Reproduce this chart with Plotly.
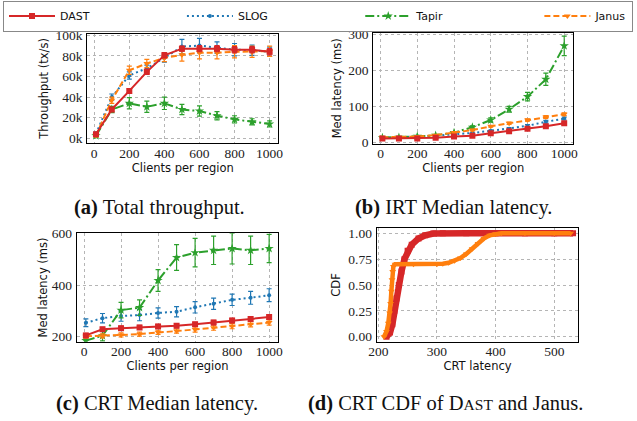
import plotly.graph_objects as go

# ---------------- data ----------------
clients = [10, 100, 200, 300, 400, 500, 600, 700, 800, 900, 1000]

# (a) total throughput (tx/s)
thr_dast = [3900, 28000, 46000, 64500, 80600, 87000, 87000, 87000, 86000, 86000, 84000]
thr_dast_err = [1000, 2000, 2000, 2500, 2500, 2500, 3000, 3000, 3000, 3000, 3000]
thr_slog = [4500, 40000, 61000, 68000, 78000, 89000, 90000, 88000, 86000, 85500, 84000]
thr_slog_err = [1500, 3000, 3500, 3000, 4000, 7000, 7000, 5500, 6000, 5000, 4500]
thr_tapir = [2600, 28000, 34000, 30600, 34000, 28000, 26500, 22000, 18400, 16000, 14000]
thr_tapir_err = [2000, 3000, 5500, 5500, 6000, 5000, 5000, 4000, 3500, 3000, 3000]
thr_janus = [3000, 37000, 66000, 72600, 78000, 81000, 83000, 83000, 84000, 84000, 84500]
thr_janus_err = [1500, 3000, 4000, 4000, 3500, 6000, 6000, 6000, 6000, 5500, 5000]
thr_ticks = [0, 20000, 40000, 60000, 80000, 100000]
thr_ticktext = ["0k", "20k", "40k", "60k", "80k", "100k"]

# (b) IRT median latency (ms)
irt_dast = [12, 12, 12, 14, 17, 19.5, 26, 32, 39, 46, 54]
irt_dast_err = [1, 1, 1, 1, 1, 1.5, 2, 2, 2.5, 3, 3]
irt_slog = [14, 15, 17, 19.5, 23, 27, 33, 39, 47, 58, 67]
irt_slog_err = [1, 1, 1, 1, 1.5, 2, 2, 3, 3, 4, 4]
irt_tapir = [14, 15, 17.6, 20.4, 28, 43, 63, 93, 128, 176, 269]
irt_tapir_err = [1, 1, 1, 2, 3, 4, 6, 8, 12, 17, 27]
irt_janus = [15, 15, 17, 21, 28, 35, 45.5, 54, 63, 71.5, 79]
irt_janus_err = [1, 1, 1, 1, 1.5, 2, 2, 3, 3, 4, 4]

# (c) CRT median latency (ms)
crt_dast = [205, 229, 233, 236, 240, 243, 248, 255, 263, 269, 276]
crt_dast_err = [8, 7, 8, 8, 8, 8, 8, 8, 8, 8, 8]
crt_slog = [254, 272, 280, 284, 292, 297, 314, 328, 343, 351, 361]
crt_slog_err = [15, 18, 20, 22, 20, 20, 22, 22, 22, 25, 25]
crt_tapir = [185, 204, 303, 313, 418, 507, 526, 535, 542, 535, 542]
crt_tapir_err = [10, 20, 30, 30, 42, 50, 55, 55, 60, 55, 55]
crt_janus = [202, 203, 207, 210, 217, 222, 228, 235, 241, 248, 255]
crt_janus_err = [8, 8, 8, 8, 8, 8, 10, 10, 10, 10, 10]

# (d) CRT CDF
cdf_dast_lat = [214, 220, 224, 227.4, 231, 235, 239.5, 244.6, 250, 257, 268.6, 280, 294, 310, 350, 400, 450, 500, 532]
cdf_dast_p = [0.0, 0.04, 0.12, 0.25, 0.37, 0.50, 0.63, 0.75, 0.83, 0.89, 0.95, 0.98, 0.997, 1.0, 1.0, 1.0, 1.0, 1.0, 1.0]
cdf_janus_lat = [209.7, 214, 217, 219.4, 221, 222.3, 223.4, 224.6, 225.7, 228.6, 260, 300, 310, 320, 330, 340, 350, 360, 370, 380, 390, 400, 410, 450, 500, 528]
cdf_janus_p = [0.0, 0.05, 0.13, 0.23, 0.32, 0.44, 0.55, 0.63, 0.68, 0.70, 0.70, 0.70, 0.705, 0.715, 0.735, 0.76, 0.80, 0.85, 0.90, 0.95, 0.98, 0.995, 1.0, 1.0, 1.0, 1.0]

systems = ["DAST", "SLOG", "Tapir", "Janus"]
colors = {"DAST": "#d62728", "SLOG": "#1f77b4", "Tapir": "#2ca02c", "Janus": "#ff7f0e"}
dashes = {"DAST": "solid", "SLOG": "2px,3px", "Tapir": "9px,3px,2px,3px", "Janus": "6px,3px"}
symbols = {"DAST": "square", "SLOG": "circle", "Tapir": "star", "Janus": "triangle-down"}
msizes = {"DAST": 6, "SLOG": 4, "Tapir": 7, "Janus": 6}

panels = {
    "a": {"DAST": (thr_dast, thr_dast_err), "SLOG": (thr_slog, thr_slog_err),
          "Tapir": (thr_tapir, thr_tapir_err), "Janus": (thr_janus, thr_janus_err)},
    "b": {"DAST": (irt_dast, irt_dast_err), "SLOG": (irt_slog, irt_slog_err),
          "Tapir": (irt_tapir, irt_tapir_err), "Janus": (irt_janus, irt_janus_err)},
    "c": {"DAST": (crt_dast, crt_dast_err), "SLOG": (crt_slog, crt_slog_err),
          "Tapir": (crt_tapir, crt_tapir_err), "Janus": (crt_janus, crt_janus_err)},
}
axes_of = {"a": ("x", "y"), "b": ("x2", "y2"), "c": ("x3", "y3")}
draw_order = ["SLOG", "Tapir", "Janus", "DAST"]
NB = "\u00a0"
legend_names = {
    "DAST": "DAST" + NB * 25,
    "SLOG": "SLOG" + NB * 25,
    "Tapir": "Tapir" + NB * 26,
    "Janus": "Janus",
}

fig = go.Figure()
for key, data in panels.items():
    xa, ya = axes_of[key]
    for s in draw_order:
        vals, err = data[s]
        fig.add_trace(go.Scatter(
            x=clients, y=vals, xaxis=xa, yaxis=ya,
            mode="lines+markers",
            name=legend_names[s], legendrank=systems.index(s) + 1,
            showlegend=(key == "a"),
            line=dict(color=colors[s], width=2, dash=dashes[s]),
            marker=dict(symbol=symbols[s], size=msizes[s], color=colors[s], line=dict(width=0)),
            error_y=dict(type="data", array=err, color=colors[s], thickness=1.2, width=2.5),
        ))

fig.add_trace(go.Scatter(
    x=cdf_dast_lat, y=cdf_dast_p, xaxis="x4", yaxis="y4", mode="lines+markers",
    showlegend=False, line=dict(color=colors["DAST"], width=6.5),
    marker=dict(symbol="square", size=6, color=colors["DAST"]),
))
fig.add_trace(go.Scatter(
    x=cdf_janus_lat, y=cdf_janus_p, xaxis="x4", yaxis="y4", mode="lines+markers",
    showlegend=False, line=dict(color=colors["Janus"], width=4.5),
    marker=dict(symbol="triangle-down", size=6, color=colors["Janus"]),
))

W, H = 637, 421
def dx(a, b):
    return [a / W, b / W]
def dy(top, bottom):
    return [1 - bottom / H, 1 - top / H]

tickfont = dict(family="Liberation Serif", size=13.5, color="#222")
titlefont = dict(family="DejaVu Sans", size=11.5, color="#111")
common = dict(showline=True, mirror=True, linecolor="black", linewidth=1.1,
              ticks="", showgrid=True, gridcolor="#b5b5b5", griddash="dot", gridwidth=0.8,
              zeroline=False, tickfont=tickfont, automargin=False)
xcommon = dict(common, ticklabelstandoff=-3)
ycommon = dict(common, ticklabelstandoff=1)
xclients = dict(range=[-39.5, 1049.5], tickvals=[0, 200, 400, 600, 800, 1000])

def ttl(text, standoff):
    return dict(text=text, standoff=standoff, font=titlefont)

fig.update_layout(
    width=W, height=H, margin=dict(l=0, r=0, t=0, b=0, autoexpand=False),
    paper_bgcolor="white", plot_bgcolor="white",
    font=dict(family="Liberation Serif", size=13.5, color="#222"),
    xaxis=dict(domain=dx(87.3, 278.3), anchor="y", **xclients, **xcommon,
               title=ttl("Clients per region", 2)),
    yaxis=dict(domain=dy(33.5, 143.3), anchor="x", range=[-4800, 101700],
               tickvals=thr_ticks, ticktext=thr_ticktext, **ycommon,
               title=ttl("Throughput (tx/s)", 4)),
    xaxis2=dict(domain=dx(373.3, 573.3), anchor="y2", **xclients, **xcommon,
                title=ttl("Clients per region", 2)),
    yaxis2=dict(domain=dy(32.7, 144), anchor="x2", range=[-3.6, 305.5],
                tickvals=[0, 100, 200, 300], **ycommon,
                title=ttl("Med latency (ms)", 4)),
    xaxis3=dict(domain=dx(76.7, 278.3), anchor="y3", **xclients, **xcommon,
                title=ttl("Clients per region", 2)),
    yaxis3=dict(domain=dy(233.3, 341.7), anchor="x3", range=[180.7, 601],
                tickvals=[200, 400, 600], **ycommon,
                title=ttl("Med latency (ms)", 1)),
    xaxis4=dict(domain=dx(376.7, 578.3), anchor="y4", range=[197.3, 541],
                tickvals=[200, 300, 400, 500], **xcommon,
                title=ttl("CRT latency", 2)),
    yaxis4=dict(domain=dy(228.3, 341.7), anchor="x4", range=[-0.048, 1.048],
                tickvals=[0, 0.25, 0.5, 0.75, 1.0], tickformat=".2f", **ycommon,
                title=ttl("CDF", 5)),
    legend=dict(orientation="h", x=3 / W, y=1 - 0.5 / H, xanchor="left", yanchor="top",
                bordercolor="#888", borderwidth=1, bgcolor="white",
                font=dict(family="DejaVu Sans", size=11, color="#111"),
                itemwidth=46, tracegroupgap=0),
)

capfont = dict(family="Liberation Serif", size=20.5, color="#111")
captions = [
    ("<b>(a)</b> Total throughput.", 159, 207),
    ("<b>(b)</b> IRT Median latency.", 453, 207),
    ("<b>(c)</b> CRT Median latency.", 157, 403),
    ("<b>(d)</b> CRT CDF of D<span style='font-size:15.5px'>AST</span> and Janus.", 445, 403),
]
for text, cx, cy in captions:
    fig.add_annotation(text=text, x=cx / W, y=1 - cy / H, xref="paper", yref="paper",
                       showarrow=False, font=capfont, xanchor="center", yanchor="middle")

fig.write_html("out.html", config={"displayModeBar": False},
               post_script="document.body.style.margin='0px';")
